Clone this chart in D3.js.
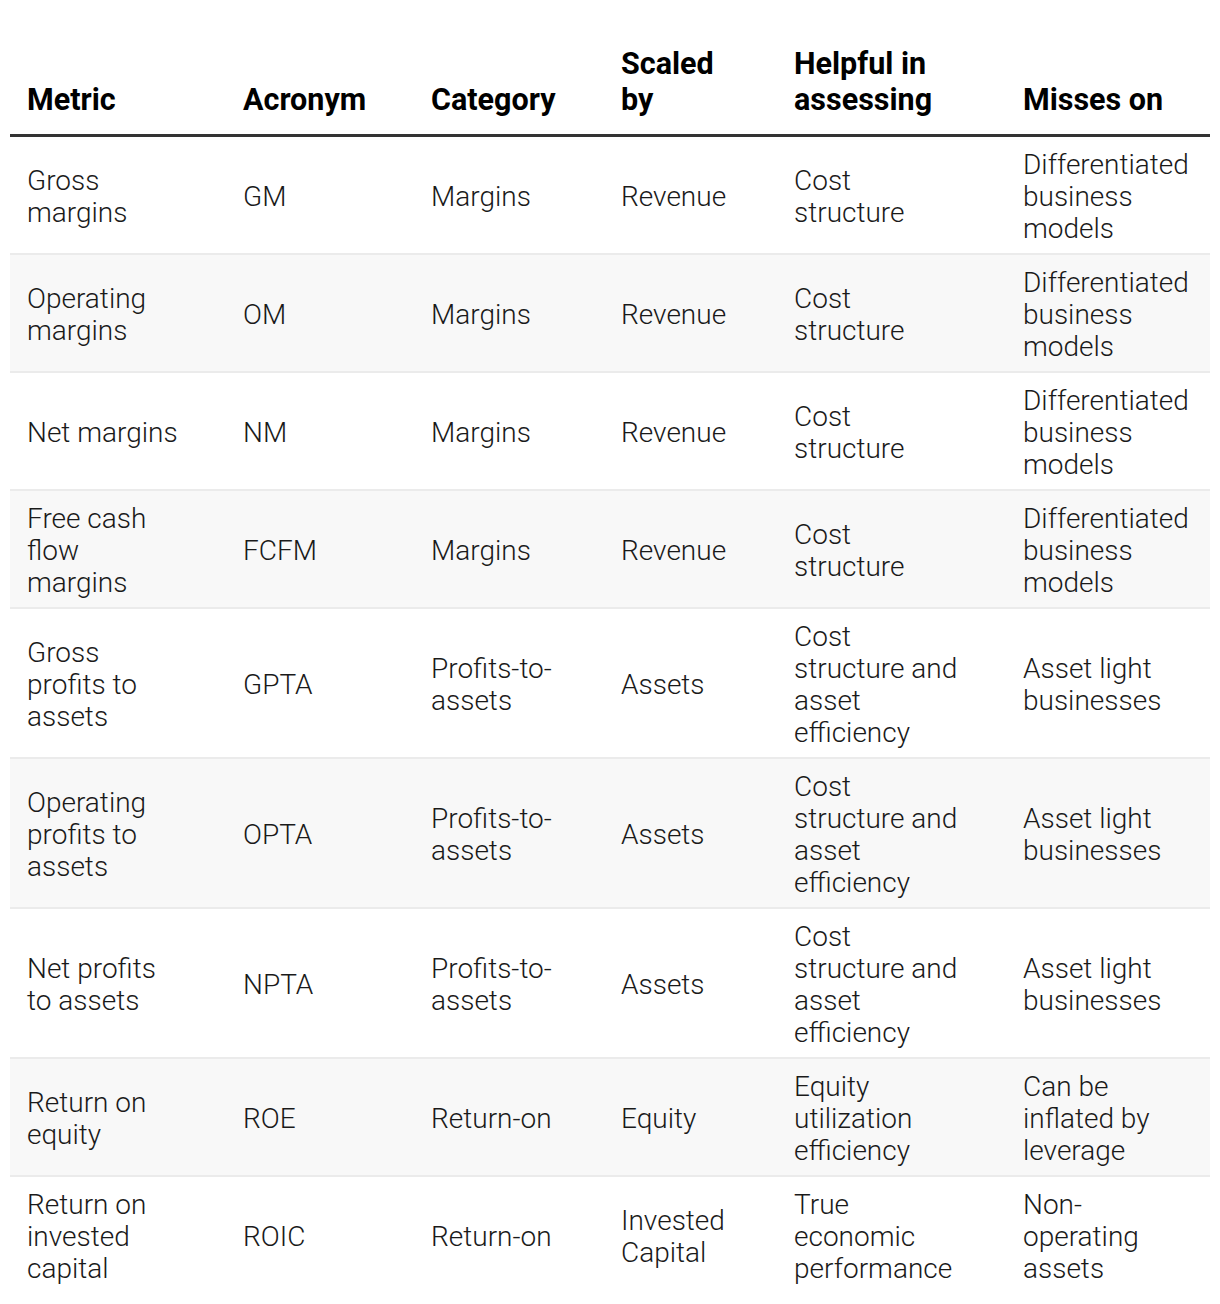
<!DOCTYPE html>
<html>
<head>
<meta charset="utf-8">
<script src="https://cdn.jsdelivr.net/npm/d3@7"></script>
<style>
  html, body { margin: 0; padding: 0; background: #fff; }
  svg { display: block; }
</style>
</head>
<body>
<svg id="chart" width="1220" height="1304"></svg>
<script>
// ---- data ----
const headers = ["Metric", "Acronym", "Category", "Scaled by", "Helpful in assessing", "Misses on"];
const metrics = ["Gross margins", "Operating margins", "Net margins", "Free cash flow margins",
  "Gross profits to assets", "Operating profits to assets", "Net profits to assets",
  "Return on equity", "Return on invested capital"];
const acronyms = ["GM", "OM", "NM", "FCFM", "GPTA", "OPTA", "NPTA", "ROE", "ROIC"];
const categories = ["Margins", "Margins", "Margins", "Margins", "Profits-to-assets",
  "Profits-to-assets", "Profits-to-assets", "Return-on", "Return-on"];
const scaledBy = ["Revenue", "Revenue", "Revenue", "Revenue", "Assets", "Assets", "Assets",
  "Equity", "Invested Capital"];
const helpfulIn = ["Cost structure", "Cost structure", "Cost structure", "Cost structure",
  "Cost structure and asset efficiency", "Cost structure and asset efficiency",
  "Cost structure and asset efficiency", "Equity utilization efficiency",
  "True economic performance"];
const missesOn = ["Differentiated business models", "Differentiated business models",
  "Differentiated business models", "Differentiated business models",
  "Asset light businesses", "Asset light businesses", "Asset light businesses",
  "Can be inflated by leverage", "Non-operating assets"];

// ---- layout ----
const colX = [27, 243, 431, 621, 794, 1023];
const colWrap = [153, 175, 175, 125, 167, 168];
const tableLeft = 10, tableRight = 1210;
const headerBorderY = 134, headerBorderH = 3;
const headerFont = 30.5, bodyFont = 28;
const headerLineH = 36, bodyLineH = 32, rowPad = 10, sepH = 2;
const fontFamily = "Roboto, 'Open Sans', sans-serif";

const columns = [metrics, acronyms, categories, scaledBy, helpfulIn, missesOn];
const rows = metrics.map((_, i) => columns.map(c => c[i]));

const svg = d3.select("#chart");

const measurer = svg.append("text").attr("font-family", fontFamily).attr("visibility", "hidden");
function measure(str, weight, size) {
  measurer.attr("font-size", size).attr("font-weight", weight).text(str);
  return measurer.node().getComputedTextLength();
}
function tokenize(str) {
  const toks = [];
  str.split(" ").forEach((w, wi) => {
    const parts = w.split(/(?<=-)/);
    parts.forEach((p, pi) => toks.push({ t: p, space: wi > 0 && pi === 0 }));
  });
  return toks;
}
function wrap(str, maxW, weight, size) {
  const toks = tokenize(str);
  const lines = [];
  let cur = "";
  toks.forEach(tk => {
    const cand = cur === "" ? tk.t : cur + (tk.space ? " " : "") + tk.t;
    if (cur !== "" && measure(cand, weight, size) > maxW) {
      lines.push(cur);
      cur = tk.t;
    } else cur = cand;
  });
  if (cur !== "") lines.push(cur);
  return lines;
}

// header
const headerBaseline = 110;
const hdr = svg.append("g");
headers.forEach((h, j) => {
  const lines = wrap(h, colWrap[j], 700, headerFont);
  const t = hdr.append("text")
    .attr("font-family", fontFamily).attr("font-size", headerFont).attr("font-weight", 700)
    .attr("fill", "#000");
  lines.forEach((ln, k) => {
    t.append("tspan").attr("x", colX[j])
      .attr("y", headerBaseline - (lines.length - 1 - k) * headerLineH).text(ln);
  });
});
svg.append("rect").attr("x", tableLeft).attr("y", headerBorderY)
  .attr("width", tableRight - tableLeft).attr("height", headerBorderH).attr("fill", "#333");

// body
let y = headerBorderY + headerBorderH;
const body = svg.append("g");
rows.forEach((row, i) => {
  const wrapped = row.map((cell, j) => wrap(cell, colWrap[j], 300, bodyFont));
  const n = d3.max(wrapped, w => w.length);
  const contentH = n * bodyLineH + 2 * rowPad;
  const g = body.append("g");
  g.append("rect").attr("x", tableLeft).attr("y", y).attr("width", tableRight - tableLeft)
    .attr("height", contentH).attr("fill", i % 2 === 1 ? "#f8f8f8" : "#ffffff");
  const cy = y + contentH / 2;
  wrapped.forEach((lines, j) => {
    const t = g.append("text").attr("font-family", fontFamily).attr("font-size", bodyFont)
      .attr("font-weight", 300).attr("fill", "#1a1a1a");
    const first = cy - (lines.length - 1) * bodyLineH / 2 + 11;
    lines.forEach((ln, k) => {
      t.append("tspan").attr("x", colX[j]).attr("y", first + k * bodyLineH).text(ln);
    });
  });
  y += contentH;
  if (i < rows.length - 1) {
    g.append("rect").attr("x", tableLeft).attr("y", y).attr("width", tableRight - tableLeft)
      .attr("height", sepH).attr("fill", "#ebebeb");
    y += sepH;
  }
});
measurer.remove();
</script>
</body>
</html>
